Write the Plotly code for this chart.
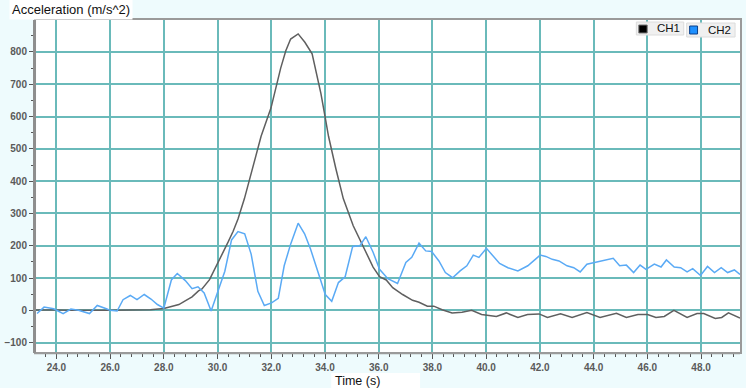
import plotly.graph_objects as go

# ---- data ----
ch1_t = [23.24, 23.6, 24.0, 24.5, 25.0, 25.5, 26.0, 26.5, 27.0, 27.5, 28.0, 28.3, 28.56, 28.81,
         29.05, 29.29, 29.42, 29.7, 30.03, 30.2, 30.39, 30.58, 30.76, 31.0, 31.3, 31.62, 31.99,
         32.17, 32.35, 32.54, 32.72, 33.0, 33.25, 33.52, 33.7, 33.85, 34.01, 34.13, 34.4, 34.68,
         35.05, 35.42, 35.79, 36.03, 36.28, 36.52, 36.89, 37.26, 37.5, 37.81, 38.05, 38.36, 38.73,
         39.1, 39.46, 39.83, 40.2, 40.38, 40.75, 41.18, 41.54, 41.97, 42.28, 42.77, 43.2, 43.75,
         44.24, 44.85, 45.22, 45.65, 46.01, 46.32, 46.63, 46.99, 47.48, 47.85, 48.1, 48.53, 48.77,
         49.02, 49.45]
ch1_v = [1, 0, 1, 0, -1, 0, 0, 0, 2, 2, 6, 12, 18, 30,
         42, 60, 66, 95, 149, 180, 211, 245, 283, 346, 440, 539, 627,
         690, 750, 804, 840, 856, 830, 794, 731, 670, 596, 539, 440, 346,
         262, 200, 134, 104, 94, 70, 49, 31, 25, 13, 13, 2, -8,
         -6, 0, -13, -18, -19, -8, -22, -13, -11, -22, -11, -22, -7,
         -22, -9, -22, -13, -13, -22, -19, 0, -22, -10, -10, -25, -22,
         -8, -24]

ch2_t = [23.28, 23.54, 23.9, 24.25, 24.54, 24.82, 25.23, 25.52, 25.86, 26.0, 26.26, 26.48, 26.75,
         27.0, 27.27, 27.52, 27.76, 28.0, 28.28, 28.5, 28.8, 29.05, 29.27, 29.5, 29.76, 30.02,
         30.27, 30.52, 30.76, 31.01, 31.25, 31.5, 31.74, 32.01, 32.26, 32.48, 32.72, 33.0, 33.24,
         33.46, 33.7, 34.01, 34.25, 34.5, 34.75, 35.03, 35.3, 35.52, 35.79, 36.03, 36.34, 36.7,
         37.01, 37.23, 37.5, 37.75, 37.97, 38.24, 38.48, 38.75, 39.03, 39.28, 39.52, 39.73, 40.01,
         40.26, 40.5, 40.81, 41.18, 41.55, 42.01, 42.22, 42.46, 42.71, 43.01, 43.26, 43.5, 43.75,
         44.12, 44.42, 44.73, 44.97, 45.22, 45.49, 45.73, 45.95, 46.26, 46.51, 46.71, 47.0, 47.24,
         47.48, 47.69, 47.98, 48.24, 48.5, 48.75, 48.99, 49.24, 49.45]
ch2_v = [-10, 10, 5, -10, 4, 0, -10, 15, 5, 0, -2, 33, 46,
         33, 49, 35, 18, 7, 94, 114, 92, 67, 73, 54, -2, 63,
         121, 218, 244, 237, 174, 59, 15, 23, 37, 138, 205, 270, 237,
         190, 127, 49, 28, 86, 104, 198, 200, 228, 180, 127, 98, 83,
         148, 164, 208, 184, 182, 153, 117, 101, 122, 138, 171, 164, 192,
         169, 145, 132, 122, 138, 171, 167, 158, 153, 138, 132, 119, 143,
         150, 156, 161, 138, 140, 117, 140, 127, 143, 134, 156, 134, 132,
         119, 129, 108, 136, 117, 132, 117, 125, 111]

series_names = ["CH1", "CH2"]
series_colors = ["#5f5f5f", "#5aaaf5"]

x_range = [23.24, 49.45]
y_range = [-129, 899]

# ---- layout helpers (pixel -> paper) ----
W, H = 746, 388
ML, MR, MT, MB = 29, 4, 20, 36
PW, PH = W - ML - MR, H - MT - MB


def px(x):
    return (x - ML) / PW


def py(y):
    return (H - MB - y) / PH


fig = go.Figure()
for t, v, name, col in [(ch1_t, ch1_v, series_names[0], series_colors[0]),
                        (ch2_t, ch2_v, series_names[1], series_colors[1])]:
    fig.add_trace(go.Scatter(x=t, y=v, mode="lines", name=name,
                             line=dict(color=col, width=1.5), showlegend=False))

grid_col = "#6ababa"
tick_font = dict(family="Liberation Sans", size=10, color="#5a5a5a", weight="bold")

fig.update_layout(
    width=W, height=H,
    margin=dict(l=ML, r=MR, t=MT, b=MB),
    paper_bgcolor="#eefbfd",
    plot_bgcolor="#ffffff",
    showlegend=False,
    xaxis=dict(range=x_range, tick0=24, dtick=2, tickformat=".1f",
               showgrid=True, gridcolor=grid_col, gridwidth=1.5,
               zeroline=False, showline=True, linecolor="#9a9a9a", linewidth=2, mirror=True,
               ticks="outside", ticklen=5, tickcolor="#555", tickfont=tick_font,
               minor=dict(tick0=24, dtick=0.4, ticks="outside", ticklen=3, tickcolor="#555",
                          showgrid=False)),
    yaxis=dict(range=y_range, tick0=0, dtick=100,
               showgrid=True, gridcolor=grid_col, gridwidth=1.5,
               zeroline=False, showline=True, linecolor="#9a9a9a", linewidth=2, mirror=True,
               ticks="outside", ticklen=5, tickcolor="#555", tickfont=tick_font,
               minor=dict(tick0=0, dtick=50, ticks="outside", ticklen=3, tickcolor="#555",
                          showgrid=False)),
)

shapes = []
# thicker left axis line and double bottom line
shapes.append(dict(type="line", xref="paper", yref="paper", x0=px(27.5), x1=px(27.5),
                   y0=py(20), y1=py(353), line=dict(color="#8e8e8e", width=3), layer="above"))
shapes.append(dict(type="line", xref="paper", yref="paper", x0=px(27), x1=px(742),
                   y0=py(353.5), y1=py(353.5), line=dict(color="#9a9a9a", width=1.5), layer="above"))
# white box behind "Time (s)"
shapes.append(dict(type="rect", xref="paper", yref="paper", x0=px(328), x1=px(418),
                   y0=py(388), y1=py(373), fillcolor="#ffffff", line=dict(width=0)))
# legend boxes
shapes.append(dict(type="rect", xref="paper", yref="paper", x0=px(637), x1=px(685),
                   y0=py(35), y1=py(22), fillcolor="#f0f0f0",
                   line=dict(color="#dcdcdc", width=1), layer="above"))
shapes.append(dict(type="rect", xref="paper", yref="paper", x0=px(688), x1=px(737),
                   y0=py(37), y1=py(23), fillcolor="#f0f0f0",
                   line=dict(color="#dcdcdc", width=1), layer="above"))
shapes.append(dict(type="rect", xref="paper", yref="paper", x0=px(639.5), x1=px(648),
                   y0=py(33), y1=py(25), fillcolor="#000000",
                   line=dict(color="#777777", width=1), layer="above"))
shapes.append(dict(type="rect", xref="paper", yref="paper", x0=px(691), x1=px(699),
                   y0=py(34), y1=py(26), fillcolor="#1e90ff",
                   line=dict(color="#0b3f8a", width=1), layer="above"))
fig.update_layout(shapes=shapes)

ann = [
    dict(text="Acceleration (m/s^2)", xref="paper", yref="paper", x=px(2), y=py(9),
         xanchor="left", yanchor="middle", showarrow=False, bgcolor="#ffffff", borderpad=2,
         font=dict(family="Liberation Sans", size=13, color="#111")),
    dict(text="Time (s)", xref="paper", yref="paper", x=px(330), y=py(380.5),
         xanchor="left", yanchor="middle", showarrow=False,
         font=dict(family="Liberation Sans", size=12.5, color="#111")),
    dict(text=series_names[0], xref="paper", yref="paper", x=px(656), y=py(28.5),
         xanchor="left", yanchor="middle", showarrow=False,
         font=dict(family="Liberation Sans", size=11.5, color="#111")),
    dict(text=series_names[1], xref="paper", yref="paper", x=px(708), y=py(30.5),
         xanchor="left", yanchor="middle", showarrow=False,
         font=dict(family="Liberation Sans", size=11.5, color="#111")),
]
fig.update_layout(annotations=ann)

fig.write_html("out.html")
